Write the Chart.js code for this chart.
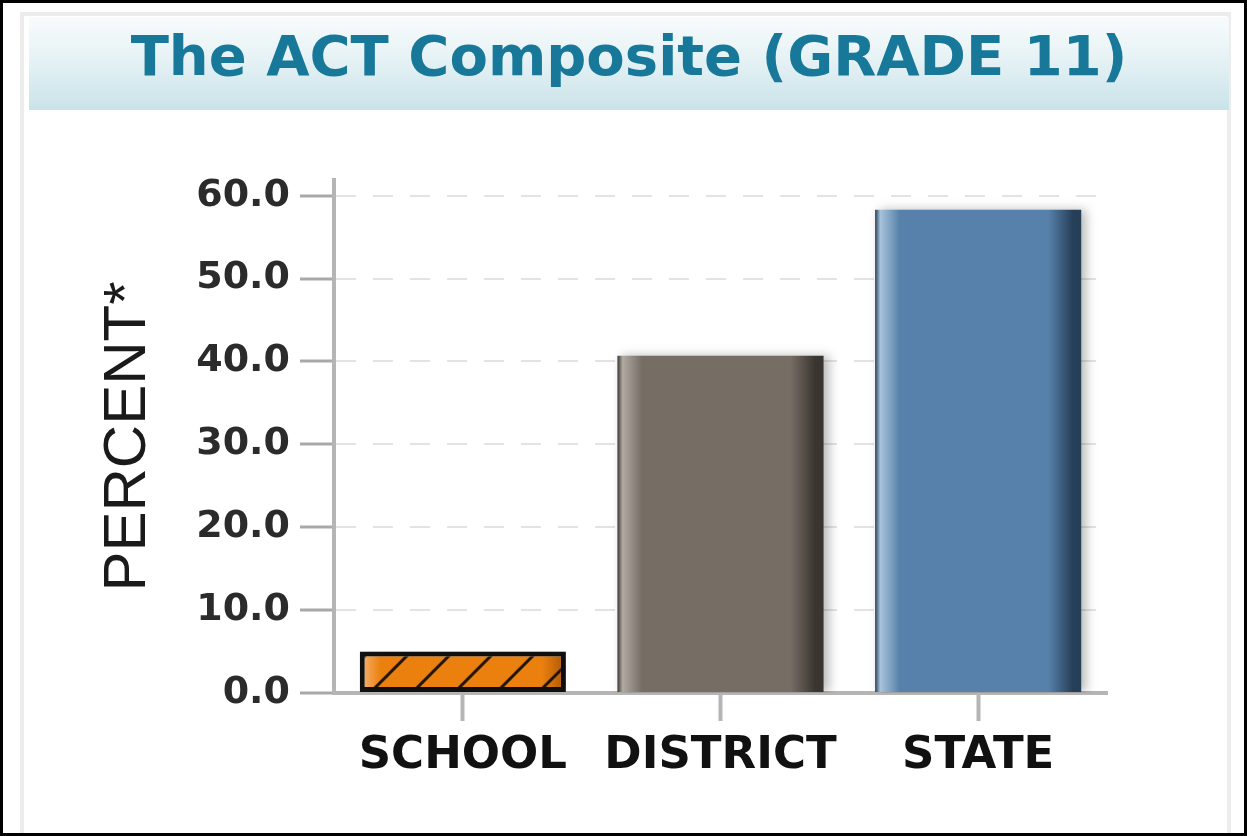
<!DOCTYPE html>
<html>
<head>
<meta charset="utf-8">
<script src="https://cdn.jsdelivr.net/npm/chart.js@4.4.1/dist/chart.umd.min.js"></script>
<style>
  html, body { margin: 0; padding: 0; background: #fff; }
  #wrap { position: relative; width: 1247px; height: 836px; overflow: hidden; }
  .panel {
    position: absolute; left: 20px; top: 12px; width: 1211px; height: 830px;
    border: 4px solid #ececec; box-sizing: border-box;
  }
  .band {
    position: absolute; left: 29px; top: 17px; width: 1200px; height: 93px;
    background: linear-gradient(to bottom, #f8fbfc 0%, #e6f2f5 45%, #c9e3e9 100%);
  }
  .band h1 {
    margin: 0; text-align: center;
    font: bold 56px "DejaVu Sans", sans-serif; color: #18789a;
    line-height: 77px;
  }
  #actChart { position: absolute; left: 0; top: 0; }
  .frame {
    position: absolute; left: 0; top: 0; width: 1247px; height: 836px;
    border: 3px solid #000; box-sizing: border-box; pointer-events: none;
  }
</style>
</head>
<body>
<div id="wrap">
  <div class="panel"></div>
  <div class="band"><h1>The ACT Composite (GRADE 11)</h1></div>
  <canvas id="actChart" width="1247" height="836"></canvas>
  <div class="frame"></div>
</div>
<script>
// data
const categories = ["SCHOOL", "DISTRICT", "STATE"];
const percents = [5.0, 40.7, 58.3];
const yTicks = [0, 10, 20, 30, 40, 50, 60];
const yTitle = "PERCENT*";

// left highlight / face / right shade of each bar
const barShades = [
  { light: "#f7b878", main: "#eb800e", dark: "#a95505" },
  { light: "#b0aaa3", main: "#766d65", dark: "#3a3530" },
  { light: "#a9c3db", main: "#5781aa", dark: "#263f59" },
];

const BAR_PCT = 0.8;
const HATCH = 42;
let hatchCache = null;

function barFill(context) {
  const chart = context.chart;
  const i = context.dataIndex;
  const shade = barShades[i];
  const xs = chart.scales.x;
  const ys = chart.scales.y;
  if (!chart.chartArea || !xs || !ys) return shade.main;

  const w = (xs.width / categories.length) * BAR_PCT;
  const x0 = xs.getPixelForValue(i) - w / 2;

  if (i !== 0) {
    const g = chart.ctx.createLinearGradient(x0, 0, x0 + w, 0);
    g.addColorStop(0, shade.dark);
    g.addColorStop(0.025, shade.light);
    g.addColorStop(0.12, shade.main);
    g.addColorStop(0.84, shade.main);
    g.addColorStop(0.96, shade.dark);
    g.addColorStop(1, shade.dark);
    return g;
  }

  // school bar: orange face with diagonal hatching
  const tw = Math.ceil(w);
  if (!hatchCache || hatchCache.w !== tw) {
    const c = document.createElement("canvas");
    c.width = tw;
    c.height = HATCH;
    const t = c.getContext("2d");
    const g = t.createLinearGradient(0, 0, tw, 0);
    g.addColorStop(0, shade.light);
    g.addColorStop(0.1, shade.main);
    g.addColorStop(0.88, shade.main);
    g.addColorStop(1, shade.dark);
    t.fillStyle = g;
    t.fillRect(0, 0, tw, HATCH);
    t.strokeStyle = "#1e1206";
    t.lineWidth = 3;
    for (let k = -2; k * HATCH < tw + HATCH; k++) {
      const bx = 10 + k * HATCH;
      t.beginPath();
      t.moveTo(bx, HATCH);
      t.lineTo(bx + HATCH, 0);
      t.stroke();
    }
    hatchCache = { w: tw, canvas: c };
  }
  const pat = chart.ctx.createPattern(hatchCache.canvas, "repeat-y");
  pat.setTransform(new DOMMatrix([1, 0, 0, 1, x0, ys.getPixelForValue(0)]));
  return pat;
}

const barShadow = {
  id: "barShadow",
  beforeDatasetsDraw(chart) {
    const c = chart.ctx;
    c.save();
    c.shadowColor = "rgba(0, 0, 0, 0.28)";
    c.shadowBlur = 10;
    c.shadowOffsetX = 5;
  },
  afterDatasetsDraw(chart) {
    chart.ctx.restore();
  },
};

const ctx = document.getElementById("actChart").getContext("2d");
const actChart = new Chart(ctx, {
  type: "bar",
  data: {
    labels: categories,
    datasets: [
      {
        data: percents,
        backgroundColor: barFill,
        borderColor: "#111111",
        borderWidth: [5, 0, 0],
        borderSkipped: false,
        barPercentage: BAR_PCT,
        categoryPercentage: 1,
      },
    ],
  },
  plugins: [barShadow],
  options: {
    responsive: false,
    animation: false,
    layout: { padding: { left: 60, right: 140, top: 180, bottom: 0 } },
    plugins: {
      legend: { display: false },
      tooltip: { enabled: false },
    },
    scales: {
      x: {
        afterFit: (s) => { s.height = 143; },
        grid: {
          offset: false,
          drawOnChartArea: false,
          tickLength: 28,
          tickColor: "#b5b5b5",
          tickWidth: 4,
        },
        border: { color: "#b5b5b5", width: 4 },
        ticks: {
          padding: 8,
          color: "#111111",
          font: { family: "DejaVu Sans", weight: "bold", size: 45 },
        },
      },
      y: {
        min: yTicks[0],
        max: 61.9,
        afterFit: (s) => { s.width = 334 - 60; },
        afterBuildTicks: (s) => {
          s.ticks = yTicks.map((v) => ({ value: v }));
        },
        grid: {
          color: "#e3e3e3",
          lineWidth: 2,
          tickLength: 34,
          tickColor: "#a8a8a8",
          tickWidth: 3,
        },
        border: { color: "#b5b5b5", width: 4, dash: [20, 17] },
        ticks: {
          padding: 10,
          color: "#2b2b2b",
          font: { family: "DejaVu Sans", weight: "bold", size: 38 },
          callback: (v) => Number(v).toFixed(1),
        },
        title: {
          display: true,
          text: yTitle,
          color: "#1a1a1a",
          padding: { top: 32, bottom: 0 },
          font: { family: "Liberation Sans", size: 60 },
        },
      },
    },
  },
});
</script>
</body>
</html>
